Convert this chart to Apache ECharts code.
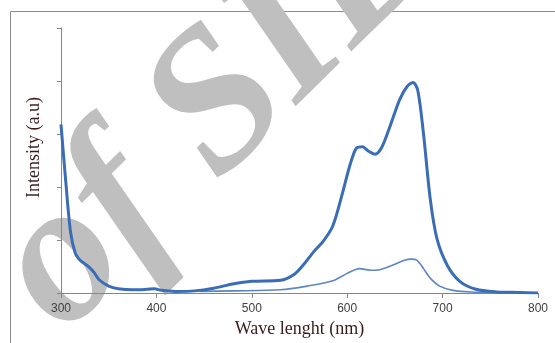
<!DOCTYPE html>
<html>
<head>
<meta charset="utf-8">
<script src="https://cdn.jsdelivr.net/npm/echarts@6/dist/echarts.min.js"></script>
<style>
  html, body { margin: 0; padding: 0; background: #fff; }
  #chart { width: 555px; height: 343px; }
</style>
</head>
<body>
<div id="chart"></div>
<script>
// wavelength (nm) and intensity
const strongX = [300, 305, 310, 315, 320, 325, 330, 335, 340, 350, 360, 375, 390, 398, 405, 420, 440, 460, 480, 500, 530, 545, 555, 565, 575, 585, 595, 603, 610, 616, 622, 629, 636, 645, 655, 663, 669, 674, 680, 687, 694, 705, 718, 735, 757, 780, 800];
const strongY = [3.18, 2.1, 1.15, 0.75, 0.62, 0.55, 0.48, 0.38, 0.25, 0.13, 0.08, 0.06, 0.07, 0.08, 0.05, 0.03, 0.04, 0.09, 0.17, 0.22, 0.24, 0.36, 0.55, 0.78, 0.98, 1.27, 1.88, 2.42, 2.74, 2.76, 2.68, 2.62, 2.74, 3.15, 3.65, 3.9, 3.97, 3.82, 3.0, 1.78, 1.03, 0.52, 0.22, 0.07, 0.02, 0.01, 0];

const weakX = [446, 480, 530, 558, 585, 600, 613, 624, 634, 648, 660, 667, 673, 680, 687, 697, 711, 730, 760, 800];
const weakY = [0.03, 0.04, 0.06, 0.13, 0.23, 0.37, 0.46, 0.43, 0.44, 0.53, 0.62, 0.64, 0.62, 0.46, 0.28, 0.13, 0.05, 0.02, 0.01, 0];

const xTicks = [300, 400, 500, 600, 700, 800];

const chart = echarts.init(document.getElementById('chart'));

const zip = (xs, ys) => xs.map((x, i) => [x, ys[i]]);

const option = {
    animation: false,
    grid: { left: 61, right: 17, top: 28, bottom: 48 },
    xAxis: {
        type: 'value',
        min: xTicks[0],
        max: xTicks[xTicks.length - 1],
        interval: 100,
        name: 'Wave lenght (nm)',
        nameLocation: 'middle',
        nameGap: 27,
        nameTextStyle: { fontFamily: 'Liberation Serif', fontSize: 18, color: '#3a1c1c' },
        axisLine: { lineStyle: { color: '#868686', width: 1 } },
        axisTick: { length: 5, lineStyle: { color: '#868686' } },
        axisLabel: { fontFamily: 'Liberation Sans', fontSize: 12, color: '#404040', margin: 10 },
        splitLine: { show: false }
    },
    yAxis: {
        type: 'value',
        min: 0,
        max: 5,
        interval: 1,
        name: 'Intensity (a.u)',
        nameLocation: 'middle',
        nameGap: 18,
        nameTextStyle: { fontFamily: 'Liberation Serif', fontSize: 18, color: '#3a1c1c', padding: [0, 0, 0, 26] },
        axisLine: { show: true, lineStyle: { color: '#868686', width: 1 } },
        axisTick: { show: true, length: 4, lineStyle: { color: '#868686' } },
        axisLabel: { show: false },
        splitLine: { show: false }
    },
    graphic: [
        {
            type: 'rect',
            z: -2,
            shape: { x: 10.5, y: 11.5, width: 560, height: 340 },
            style: { fill: 'none', stroke: '#8c8c8c', lineWidth: 1 }
        },
        {
            // watermark
            type: 'text',
            z: -1,
            x: 98,
            y: 370,
            rotation: 0.78,
            style: {
                text: 'of SIB',
                font: 'italic bold 200px "Liberation Serif"',
                fill: '#bfbfbf',
                textAlign: 'left',
                verticalAlign: 'bottom'
            }
        }
    ],
    series: [
        {
            type: 'line',
            data: zip(weakX, weakY),
            smooth: 0.3,
            symbol: 'none',
            z: 3,
            lineStyle: { color: '#5b87c4', width: 1.6 }
        },
        {
            type: 'line',
            data: zip(strongX, strongY),
            smooth: 0.3,
            symbol: 'none',
            z: 4,
            lineStyle: { color: '#3a6db5', width: 3 }
        }
    ]
};

chart.setOption(option);
</script>
</body>
</html>
